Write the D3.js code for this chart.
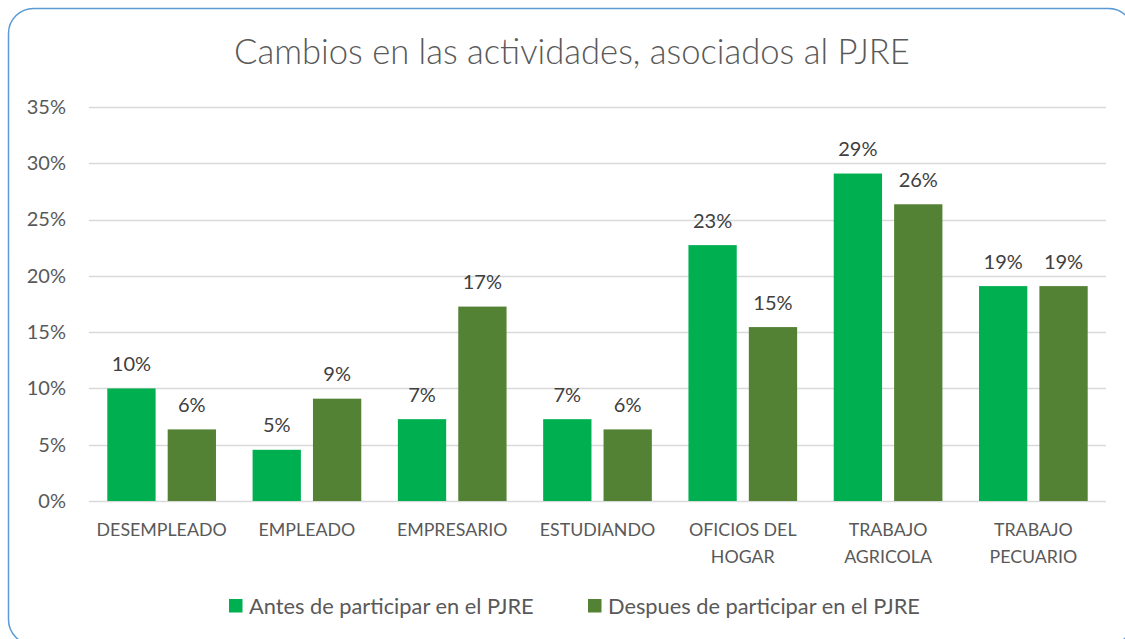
<!DOCTYPE html>
<html>
<head>
<meta charset="utf-8">
<script src="https://cdn.jsdelivr.net/npm/d3@7"></script>
<style>
  body { margin: 0; background: #fff; }
  text { font-family: Lato, "Liberation Sans", sans-serif; }
</style>
</head>
<body>
<div id="chart"></div>
<script>
// data
var categories = ["DESEMPLEADO", "EMPLEADO", "EMPRESARIO", "ESTUDIANDO", "OFICIOS DEL\nHOGAR", "TRABAJO\nAGRICOLA", "TRABAJO\nPECUARIO"];
var series = ["Antes de participar en el PJRE", "Despues de participar en el PJRE"];
var antes = [0.1000, 0.0455, 0.0727, 0.0727, 0.2273, 0.2909, 0.1909];
var despues = [0.0636, 0.0909, 0.1727, 0.0636, 0.1545, 0.2636, 0.1909];
var yTicks = [0, 0.05, 0.10, 0.15, 0.20, 0.25, 0.30, 0.35];
var title = "Cambios en las actividades, asociados al PJRE";

var colors = ["#00b050", "#548235"];

var svgWidth = 1125;
var svgHeight = 639;
var margin = {top: 107, right: 19, bottom: 138, left: 89};
var width = svgWidth - margin.left - margin.right;
var height = 501 - margin.top;

var svg = d3.select("#chart").append("svg")
    .attr("width", svgWidth)
    .attr("height", svgHeight);

// outer rounded frame
svg.append("rect")
    .attr("x", 8.5).attr("y", 8.5)
    .attr("width", 1125).attr("height", 636)
    .attr("rx", 25).attr("ry", 25)
    .attr("fill", "#fff")
    .attr("stroke", "#5b9bd5")
    .attr("stroke-width", 1.5);

svg.append("text")
    .attr("x", 572)
    .attr("y", 64)
    .attr("text-anchor", "middle")
    .attr("font-size", "34.6px")
    .attr("font-weight", 300)
    .attr("fill", "#595959")
    .text(title);

var chart = svg.append("g")
    .attr("transform", `translate(${margin.left},${margin.top})`);

var x0 = d3.scaleBand().domain(d3.range(categories.length)).range([0, width]).padding(0);
var x1 = d3.scaleBand().domain([0, 1])
    .range([18.3, x0.bandwidth() - 18.3])
    .paddingInner(0.2);
var y = d3.scaleLinear().domain([0, 0.35]).range([height, 0]);

// gridlines
chart.append("g")
    .selectAll("line")
    .data(yTicks)
    .enter()
    .append("line")
    .attr("x1", 0).attr("x2", width)
    .attr("y1", function (d) { return Math.round(y(d)) + 0.5; })
    .attr("y2", function (d) { return Math.round(y(d)) + 0.5; })
    .attr("stroke", "#d9d9d9")
    .attr("stroke-width", 1.3);

// y axis labels
var yAxis = d3.axisLeft(y).tickValues(yTicks).tickFormat(d3.format(".0%")).tickSize(0).tickPadding(23);
var yg = chart.append("g").call(yAxis);
yg.select(".domain").remove();
yg.selectAll("text")
    .attr("font-size", "20px")
    .attr("fill", "#595959")
    .attr("font-family", "Lato, 'Liberation Sans', sans-serif");

var table = categories.map(function (c, i) { return [antes[i], despues[i]]; });

var groups = chart.selectAll(".cat")
    .data(table)
    .enter()
    .append("g")
    .attr("class", "cat")
    .attr("transform", function (d, i) { return `translate(${x0(i)},0)`; });

groups.selectAll("rect")
    .data(function (d) { return d; })
    .enter()
    .append("rect")
    .attr("x", function (d, j) { return x1(j); })
    .attr("y", function (d) { return y(d); })
    .attr("width", x1.bandwidth())
    .attr("height", function (d) { return height - y(d); })
    .attr("fill", function (d, j) { return colors[j]; });

groups.selectAll(".lbl")
    .data(function (d) { return d; })
    .enter()
    .append("text")
    .attr("class", "lbl")
    .attr("x", function (d, j) { return x1(j) + x1.bandwidth() / 2; })
    .attr("y", function (d) { return y(d) - 17.5; })
    .attr("text-anchor", "middle")
    .attr("font-size", "20px")
    .attr("fill", "#404040")
    .text(function (d) { return d3.format(".0%")(d); });

// category labels
var catLabels = chart.append("g").selectAll("text")
    .data(categories)
    .enter()
    .append("text")
    .attr("x", function (d, i) { return x0(i) + x0.bandwidth() / 2; })
    .attr("y", height + 35)
    .attr("text-anchor", "middle")
    .attr("font-size", "17.8px")
    .attr("fill", "#595959");

catLabels.selectAll("tspan")
    .data(function (d) { return d.split("\n"); })
    .enter()
    .append("tspan")
    .attr("x", function () { return d3.select(this.parentNode).attr("x"); })
    .attr("dy", function (d, k) { return k === 0 ? 0 : 27; })
    .text(function (d) { return d; });

// legend
var legendX = [229, 588];
var legend = svg.selectAll(".legend")
    .data(series)
    .enter()
    .append("g")
    .attr("class", "legend")
    .attr("transform", function (d, i) { return `translate(${legendX[i]},599)`; });

legend.append("rect")
    .attr("width", 13.5).attr("height", 13.5)
    .attr("fill", function (d, i) { return colors[i]; });

legend.append("text")
    .attr("x", 20)
    .attr("y", 14.5)
    .attr("font-size", "21.8px")
    .attr("fill", "#595959")
    .text(function (d) { return d; });
</script>
</body>
</html>
